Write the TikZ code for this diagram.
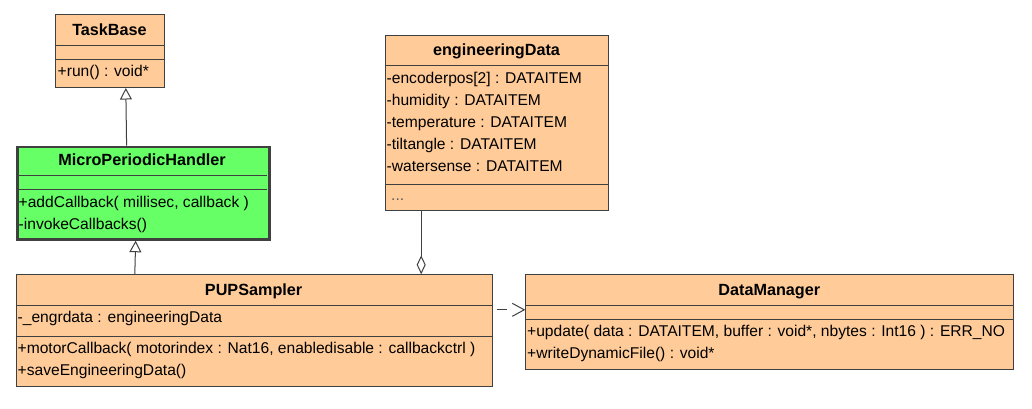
\documentclass[tikz,border=0pt]{standalone}
\usepackage{fontspec}
\setmainfont{Liberation Sans}
\usetikzlibrary{arrows.meta}
\definecolor{umlfill}{HTML}{FFCC99}
\definecolor{umlgreen}{HTML}{66FF66}
\definecolor{umlline}{HTML}{404040}
\begin{document}
\begin{tikzpicture}[x=1pt,y=-1pt,
  font=\fontsize{15.6}{18}\selectfont,
  box/.style={draw=umlline, fill=umlfill, line width=1pt, inner sep=0pt, anchor=north west},
  sep/.style={draw=umlline, line width=1pt},
  ctitle/.style={font=\fontsize{16.2}{18}\selectfont\bfseries, anchor=base, inner sep=0pt},
  member/.style={anchor=base west, inner sep=0pt},
  conn/.style={draw=umlline, line width=1pt},
  gen/.style={conn, -{Triangle[open, length=11.5pt, width=12pt]}},
  agg/.style={conn, -{Diamond[open, length=19pt, width=9pt]}},
  dep/.style={conn, dash pattern=on 10pt off 40pt, dash phase=46pt, -{Straight Barb[length=12pt, width=13pt]}}
]
\useasboundingbox (0,0) rectangle (1032,408);
\fill[white] (0,0) rectangle (1032,408);

% TaskBase
\node[box, minimum width=109pt, minimum height=73pt] (tb) at (55,14) {};
\draw[sep] (55,45) -- (164,45);
\draw[sep] (55,59) -- (164,59);
\node[ctitle] (tbt) at (109.5,35) {TaskBase};
\node[member] (tbm1) at (57.5,76) {+run() : void*};

% MicroPeriodicHandler
\node[box, fill=umlgreen, line width=2.7pt, minimum width=251.7pt, minimum height=92.3pt] (mph) at (16.3,145.7) {};
\draw[sep] (17.6,175.3) -- (266.6,175.3);
\draw[sep] (17.6,189.3) -- (266.6,189.3);
\node[ctitle] (mpht) at (142,165.5) {MicroPeriodicHandler};
\node[member] (mphm1) at (18.5,207) {+addCallback( millisec, callback )};
\node[member] (mphm2) at (18.5,229) {-invokeCallbacks()};

% engineeringData
\node[box, minimum width=222.4pt, minimum height=175.3pt] (eng) at (385.3,34.7) {};
\draw[sep] (385.3,65) -- (607.7,65);
\draw[sep] (385.3,184.3) -- (607.7,184.3);
\node[ctitle] (engt) at (496.5,55) {engineeringData};
\node[member] (enga1) at (386.5,83.5) {-encoderpos[2] : DATAITEM};
\node[member] (enga2) at (386.5,105.5) {-humidity : DATAITEM};
\node[member] (enga3) at (386.5,127.5) {-temperature : DATAITEM};
\node[member] (enga4) at (386.5,149.3) {-tiltangle : DATAITEM};
\node[member] (enga5) at (386.5,171.3) {-watersense : DATAITEM};
\node[member, text=black!65] (engm1) at (391,200) {...};

% PUPSampler
\node[box, minimum width=475.8pt, minimum height=111.7pt] (pup) at (15.7,274.3) {};
\draw[sep] (15.7,305.5) -- (491.5,305.5);
\draw[sep] (15.7,336.5) -- (491.5,336.5);
\node[ctitle] (pupt) at (253.6,295) {PUPSampler};
\node[member] (pupa1) at (17.5,322.5) {-\_engrdata : engineeringData};
\node[member] (pupm1) at (17.5,353.5) {+motorCallback( motorindex : Nat16, enabledisable : callbackctrl )};
\node[member] (pupm2) at (17.5,375) {+saveEngineeringData()};

% DataManager
\node[box, minimum width=488pt, minimum height=94.7pt] (dm) at (525.3,274.3) {};
\draw[sep] (525.3,305) -- (1013.3,305);
\draw[sep] (525.3,319.7) -- (1013.3,319.7);
\node[ctitle] (dmt) at (769.3,295) {DataManager};
\node[member] (dmm1) at (527,336) {+update( data : DATAITEM, buffer : void*, nbytes : Int16 ) : ERR\_NO};
\node[member] (dmm2) at (527,358.7) {+writeDynamicFile() : void*};

% connectors
\draw[gen] ([xshift=110.3pt]mph.north west) -- ([xshift=70.8pt]tb.south west);
\draw[gen] ([xshift=119.1pt]pup.north west) -- ([xshift=119.35pt]mph.south west);
\draw[agg] ([xshift=35.9pt]eng.south west) -- ([xshift=405.5pt]pup.north west);
\draw[dep] ([yshift=-35.5pt]pup.north east) -- ([yshift=-35.5pt]dm.north west);
\end{tikzpicture}
\end{document}
